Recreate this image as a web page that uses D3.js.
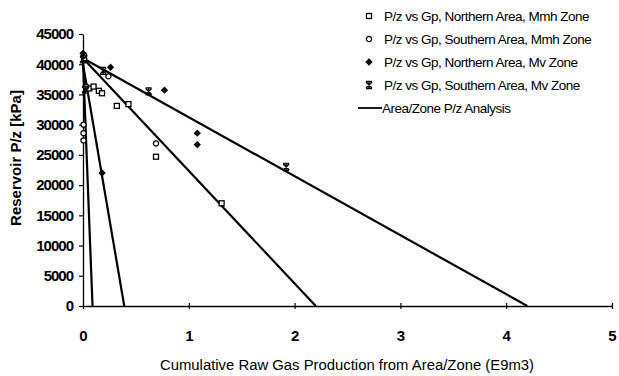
<!DOCTYPE html>
<html lang="en">
<head>
    <style>
        body { margin: 0; background: #fff; }
        svg { display: block; }
        text { fill: #000; }
    </style>
</head>
<body>
    <svg width="619" height="376"></svg>
    <script src="https://cdn.jsdelivr.net/npm/d3@7/dist/d3.min.js"></script>
    <script>
        // Data: [Gp (E9m3), P/z (kPa)]
        const northMmh = [[0.01, 41000], [0.06, 36000], [0.10, 36300], [0.15, 35600], [0.18, 35200],
                          [0.32, 33100], [0.43, 33400], [0.69, 24700], [1.31, 17000]];
        const southMmh = [[0.01, 41500], [0.005, 30000], [0.005, 28600], [0.005, 27400], [0.03, 36300],
                          [0.24, 38000], [0.69, 26900]];
        const northMv = [[0.0, 41800], [0.26, 39500], [0.77, 35700], [1.08, 28600], [1.08, 26700], [0.18, 22000]];
        const southMv = [[0.0, 40800], [0.02, 35800], [0.19, 38900], [0.62, 35500], [1.92, 23000]];

        // P/z analysis straight lines, from initial P/z to GIIP
        const fitLines = [
            [[0, 41000], [4.2, 0]],
            [[0, 41000], [2.2, 0]],
            [[0, 40000], [0.39, 0]],
            [[0, 40500], [0.09, 0]]
        ];

        const xTicks = [0, 1, 2, 3, 4, 5];
        const yTicks = [0, 5000, 10000, 15000, 20000, 25000, 30000, 35000, 40000, 45000];

        const legendLabels = [
            "P/z vs Gp, Northern Area, Mmh Zone",
            "P/z vs Gp, Southern Area, Mmh Zone",
            "P/z vs Gp, Northern Area, Mv Zone",
            "P/z vs Gp, Southern Area, Mv Zone",
            "Area/Zone P/z Analysis"
        ];

        const font = "'Liberation Sans Narrow', 'Liberation Sans', Arial, sans-serif";
        const svg = d3.select("svg");

        const x = d3.scaleLinear().domain([0, 5]).range([83, 612]);
        const y = d3.scaleLinear().domain([0, 45000]).range([306, 34]);

        // Axes
        const yAxis = svg.append("g")
            .attr("transform", `translate(${x(0)},0)`)
            .call(d3.axisLeft(y).tickValues(yTicks).tickSize(4).tickSizeOuter(0).tickPadding(6).tickFormat(d3.format("d")));
        yAxis.select(".domain").attr("stroke", "#000").attr("stroke-width", 1.3);
        yAxis.selectAll(".tick line").attr("stroke", "#000").attr("stroke-width", 1.2);
        yAxis.selectAll(".tick text")
            .style("font-family", font).style("font-size", "15px").style("font-weight", "bold")
            .style("letter-spacing", "-1px").attr("fill", "#000");

        const xAxis = svg.append("g")
            .attr("transform", `translate(0,${y(0)})`)
            .call(d3.axisBottom(x).tickValues(xTicks).tickSizeOuter(0).tickPadding(18).tickFormat(d3.format("d")));
        xAxis.select(".domain").attr("stroke", "#000").attr("stroke-width", 1.3);
        xAxis.selectAll(".tick line").attr("y1", -3).attr("y2", 3).attr("stroke", "#000").attr("stroke-width", 1.2);
        xAxis.selectAll(".tick text")
            .style("font-family", font).style("font-size", "15px").style("font-weight", "bold").attr("fill", "#000");

        // Axis titles
        svg.append("text")
            .attr("transform", `translate(21,158) rotate(-90)`)
            .attr("text-anchor", "middle")
            .style("font-family", "'Liberation Sans', Arial, sans-serif").style("font-size", "15px").style("font-weight", "bold")
            .text("Reservoir P/z [kPa]");

        svg.append("text")
            .attr("x", 160).attr("y", 370)
            .attr("textLength", 374).attr("lengthAdjust", "spacingAndGlyphs")
            .style("font-family", font).style("font-size", "14px")
            .text("Cumulative Raw Gas Production from Area/Zone  (E9m3)");

        // Fit lines
        const line = d3.line().x(d => x(d[0])).y(d => y(d[1]));
        svg.append("g").selectAll("path").data(fitLines).enter()
            .append("path")
            .attr("d", line)
            .attr("fill", "none").attr("stroke", "#000").attr("stroke-width", 2.2);

        // Markers
        const starPath = "M-3,-3L3,3M3,-3L-3,3M0,-3.5L0,3.5M-3,-3.5L3,-3.5M-3,3.5L3,3.5";
        function drawMarker(g, kind) {
            if (kind === 0) {
                g.append("rect").attr("x", -2.5).attr("y", -2.5).attr("width", 5).attr("height", 5)
                    .attr("fill", "#fff").attr("stroke", "#000").attr("stroke-width", 1.3);
            } else if (kind === 1) {
                g.append("circle").attr("r", 2.6)
                    .attr("fill", "#fff").attr("stroke", "#000").attr("stroke-width", 1.3);
            } else if (kind === 2) {
                g.append("path").attr("d", d3.symbol(d3.symbolDiamond2, 34)())
                    .attr("fill", "#000");
            } else {
                g.append("path").attr("d", starPath)
                    .attr("fill", "none").attr("stroke", "#000").attr("stroke-width", 1.4);
            }
        }

        const seriesList = [northMmh, southMmh, northMv, southMv];
        seriesList.forEach((series, i) => {
            svg.append("g").selectAll("g").data(series).enter()
                .append("g")
                .attr("transform", d => `translate(${x(d[0])},${y(d[1])})`)
                .each(function() { drawMarker(d3.select(this), i); });
        });

        // Legend
        const legend = svg.append("g");
        const rowY = d3.scaleLinear().domain([0, 4]).range([16, 108]);
        legendLabels.forEach((label, i) => {
            const row = legend.append("g").attr("transform", `translate(0,${rowY(i)})`);
            if (i < 4) {
                const m = row.append("g").attr("transform", "translate(369,0)");
                drawMarker(m, i);
            } else {
                row.append("line").attr("x1", 358).attr("x2", 382)
                    .attr("stroke", "#000").attr("stroke-width", 1.8);
            }
            row.append("text")
                .attr("x", i < 4 ? 384 : 382).attr("y", 4.5)
                .style("font-family", font).style("font-size", "13.5px").style("letter-spacing", "-0.5px")
                .text(label);
        });
    </script>
</body>
</html>
